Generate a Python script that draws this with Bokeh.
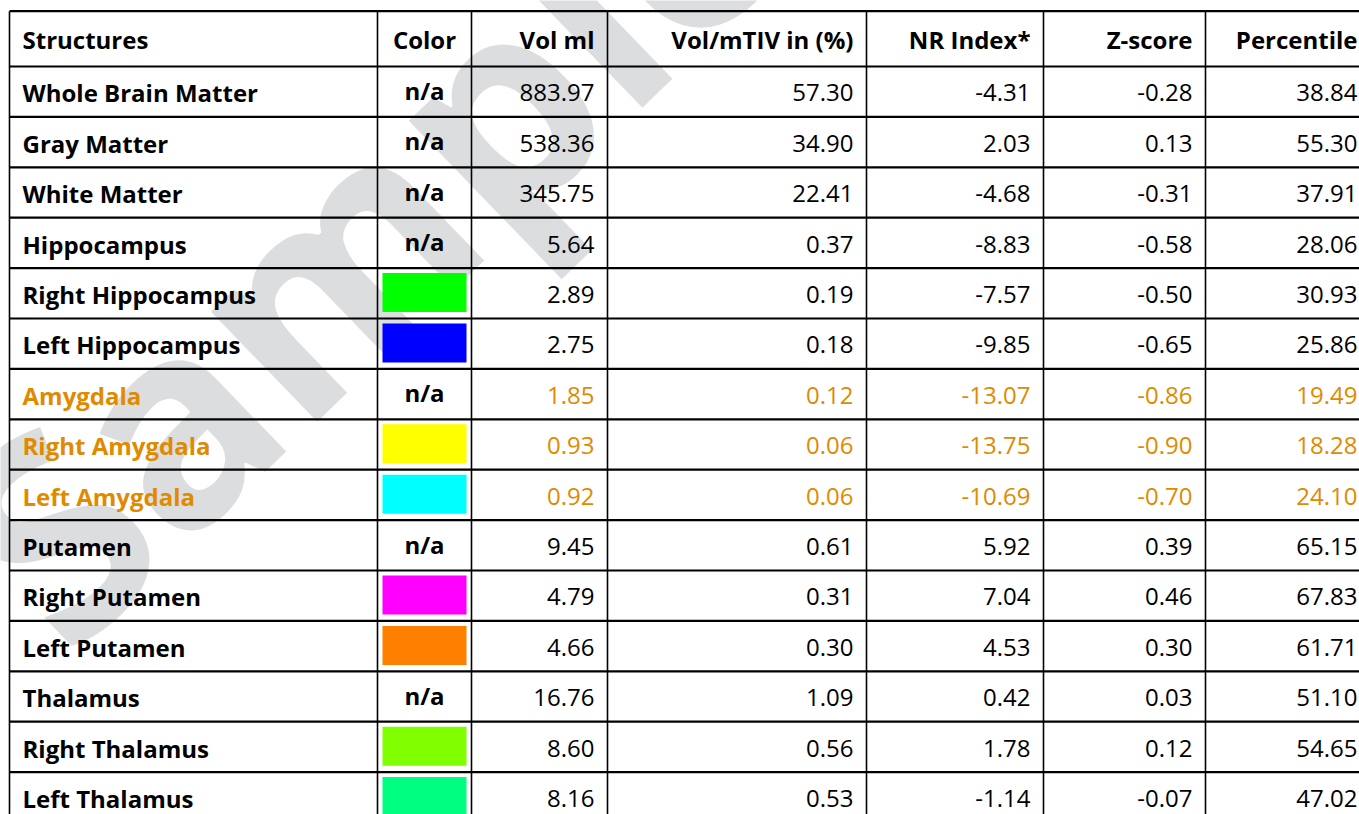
from bokeh.plotting import figure
from bokeh.models import Range1d, ColumnDataSource
from bokeh.core.properties import value
from bokeh.embed import file_html
from bokeh.resources import INLINE

# ---------------- data ----------------
headers = ["Structures", "Color", "Vol ml", "Vol/mTIV in (%)", "NR Index*", "Z-score", "Percentile"]
structures = ["Whole Brain Matter", "Gray Matter", "White Matter", "Hippocampus",
              "Right Hippocampus", "Left Hippocampus", "Amygdala", "Right Amygdala",
              "Left Amygdala", "Putamen", "Right Putamen", "Left Putamen", "Thalamus",
              "Right Thalamus", "Left Thalamus"]
swatch_colors = [None, None, None, None, "#00FF00", "#0000FF", None, "#FFFF00",
                 "#00FFFF", None, "#FF00FF", "#FF8000", None, "#80FF00", "#00FF80"]
vol_ml = [883.97, 538.36, 345.75, 5.64, 2.89, 2.75, 1.85, 0.93, 0.92, 9.45, 4.79, 4.66, 16.76, 8.60, 8.16]
vol_mtiv = [57.30, 34.90, 22.41, 0.37, 0.19, 0.18, 0.12, 0.06, 0.06, 0.61, 0.31, 0.30, 1.09, 0.56, 0.53]
nr_index = [-4.31, 2.03, -4.68, -8.83, -7.57, -9.85, -13.07, -13.75, -10.69, 5.92, 7.04, 4.53, 0.42, 1.78, -1.14]
z_score = [-0.28, 0.13, -0.31, -0.58, -0.50, -0.65, -0.86, -0.90, -0.70, 0.39, 0.46, 0.30, 0.03, 0.12, -0.07]
percentile = [38.84, 55.30, 37.91, 28.06, 30.93, 25.86, 19.49, 18.28, 24.10, 65.15, 67.83, 61.71, 51.10, 54.65, 47.02]
flagged = ["Amygdala", "Right Amygdala", "Left Amygdala"]
watermark = "Sample"

# ---------------- layout ----------------
W, H = 1359, 814
col_edges = [9, 377, 471, 607, 866, 1043, 1205, 1370]
TOP = 10.7
HDR_BOT = 66
ROW_H = 50.4
PAD_L = 13
PAD_R = 13
DY = -9.0          # baseline correction for the svg text renderer
FONT = value("Open Sans")
SIZE = "24px"
BLACK = "#000000"
ORANGE = "#E08A00"

p = figure(width=W, height=H, output_backend="svg", toolbar_location=None,
           x_range=Range1d(0, W), y_range=Range1d(H, 0), min_border=0)
p.axis.visible = False
p.grid.visible = False
p.outline_line_color = None
p.background_fill_color = "white"
p.border_fill_color = "white"

# watermark
p.text(x=[-7], y=[583], text=[watermark], angle=44, angle_units="deg",
       text_font=FONT, text_font_style="bold", text_font_size="280px",
       text_color="#DCDDDF", text_baseline="alphabetic", text_align="left")

n = len(structures)
row_tops = [HDR_BOT + i * ROW_H for i in range(n)]

# swatches
sx, sy, sc = [], [], []
for i, c in enumerate(swatch_colors):
    if c is not None:
        sx.append((col_edges[1] + col_edges[2]) / 2)
        sy.append(row_tops[i] + 5 + 19.5)
        sc.append(c)
p.rect(x=sx, y=sy, width=84, height=39, fill_color=sc, line_color=None)

# grid lines
hy = [TOP, HDR_BOT] + [HDR_BOT + (i + 1) * ROW_H for i in range(n)]
p.segment(x0=[col_edges[0]] * len(hy), y0=hy, x1=[col_edges[-1]] * len(hy), y1=hy,
          line_color=BLACK, line_width=2.2)
vx = col_edges[:-1]
p.segment(x0=vx, y0=[TOP] * len(vx), x1=vx, y1=[H + 20] * len(vx),
          line_color=BLACK, line_width=1.6)

# header
hb = 48.4 + DY
p.text(x=[col_edges[0] + PAD_L], y=[hb], text=[headers[0]], text_font=FONT, text_font_style="bold",
       text_font_size=SIZE, text_color=BLACK, text_align="left", text_baseline="alphabetic")
p.text(x=[(col_edges[1] + col_edges[2]) / 2], y=[hb], text=[headers[1]], text_font=FONT,
       text_font_style="bold", text_font_size=SIZE, text_color=BLACK, text_align="center",
       text_baseline="alphabetic")
rx = [col_edges[k] - PAD_R for k in range(3, 8)]
p.text(x=rx, y=[hb] * 5, text=headers[2:], text_font=FONT, text_font_style="bold",
       text_font_size=SIZE, text_color=BLACK, text_align="right", text_baseline="alphabetic")

# rows
row_colors = [ORANGE if s in flagged else BLACK for s in structures]
base = [t + 35.3 + DY for t in row_tops]
p.text(x=[col_edges[0] + PAD_L] * n, y=base, text=structures, text_font=FONT,
       text_font_style="bold", text_font_size=SIZE, text_color=row_colors,
       text_align="left", text_baseline="alphabetic")

na_idx = [i for i, c in enumerate(swatch_colors) if c is None]
p.text(x=[(col_edges[1] + col_edges[2]) / 2] * len(na_idx),
       y=[row_tops[i] + 33.0 + DY for i in na_idx],
       text=["n/a"] * len(na_idx), text_font=FONT, text_font_style="bold", text_font_size=SIZE,
       text_color=BLACK, text_align="center", text_baseline="alphabetic")

for k, col in enumerate([vol_ml, vol_mtiv, nr_index, z_score, percentile]):
    src = ColumnDataSource(dict(x=[col_edges[k + 3] - PAD_R] * n, y=base,
                                t=[f"{v:.2f}" for v in col], c=row_colors))
    p.text(x="x", y="y", text="t", text_color="c", source=src, text_font=FONT,
           text_font_size=SIZE, text_align="right", text_baseline="alphabetic")

open("out.html", "w").write(file_html(p, INLINE))
